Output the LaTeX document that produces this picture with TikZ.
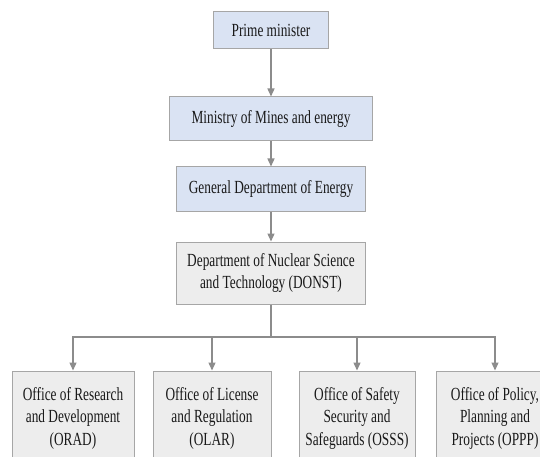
\documentclass[tikz,border=0pt]{standalone}
\usepackage{fontspec}
\setmainfont{Liberation Serif}[FakeStretch=0.72]
\usetikzlibrary{arrows.meta}
\definecolor{boxblue}{HTML}{DAE3F3}
\definecolor{boxgray}{HTML}{EDEDED}
\definecolor{edgegray}{HTML}{A6A6A6}
\definecolor{linegray}{HTML}{8C8C8C}
\begin{document}
\begin{tikzpicture}[x=1pt,y=-1pt,
  box/.style={draw=edgegray,line width=1pt,inner sep=0pt,align=center,
    font=\fontsize{18.5}{22.5}\selectfont,text=black!90},
  bluebox/.style={box,fill=boxblue},
  graybox/.style={box,fill=boxgray},
  conn/.style={draw=linegray,line width=1.3pt},
  arr/.style={conn,-{Triangle[width=7pt,length=8pt]}}]
\useasboundingbox (0,0) rectangle (540,457);
\fill[white] (0,0) rectangle (540,457);
\clip (0,0) rectangle (540,457);
\node[bluebox,minimum width=115pt,minimum height=37pt] (pm) at (271,30.5) {Prime minister};
\node[bluebox,minimum width=203pt,minimum height=44pt] (mme) at (271,119) {Ministry of Mines and energy};
\node[bluebox,minimum width=189pt,minimum height=44pt] (gde) at (271,189) {General Department of Energy};
\node[graybox,minimum width=189pt,minimum height=62pt] (donst) at (271,273) {Department of Nuclear Science\\and Technology (DONST)};
\node[graybox,minimum width=122pt,minimum height=94pt] (orad) at (73,418) {Office of Research\\and Development\\(ORAD)};
\node[graybox,minimum width=118pt,minimum height=94pt] (olar) at (212,418) {Office of License\\and Regulation\\(OLAR)};
\node[graybox,minimum width=116pt,minimum height=94pt] (osss) at (357,418) {Office of Safety\\Security and\\Safeguards (OSSS)};
\node[graybox,minimum width=118pt,minimum height=94pt] (oppp) at (495,418) {Office of Policy,\\Planning and\\Projects (OPPP)};
\coordinate (j) at (271,337);
\draw[arr] (pm) -- (mme);
\draw[arr] (mme) -- (gde);
\draw[arr] (gde) -- (donst);
\draw[conn] (donst) -- (j);
\draw[arr] (j) -| (orad);
\draw[arr] (j) -| (olar);
\draw[arr] (j) -| (osss);
\draw[arr] (j) -| (oppp);
\end{tikzpicture}
\end{document}
